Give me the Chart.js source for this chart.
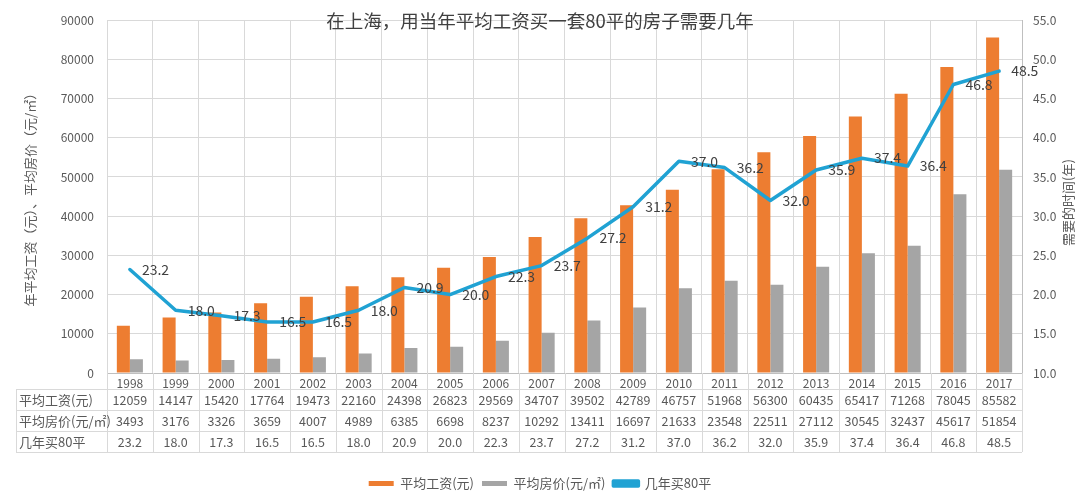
<!DOCTYPE html>
<html><head><meta charset="utf-8">
<script src="https://cdn.jsdelivr.net/npm/chart.js@4.4.1/dist/chart.umd.min.js"></script>
<style>html,body{margin:0;padding:0;background:#fff}#wrap{width:1080px;height:500px}</style>
</head><body><div id="wrap"><canvas id="c" width="1080" height="500"></canvas></div>
<script>
const years = ['1998','1999','2000','2001','2002','2003','2004','2005','2006','2007','2008','2009','2010','2011','2012','2013','2014','2015','2016','2017'];
const wages = [12059,14147,15420,17764,19473,22160,24398,26823,29569,34707,39502,42789,46757,51968,56300,60435,65417,71268,78045,85582];
const prices = [3493,3176,3326,3659,4007,4989,6385,6698,8237,10292,13411,16697,21633,23548,22511,27112,30545,32437,45617,51854];
const yearsNeeded = [23.2,18.0,17.3,16.5,16.5,18.0,20.9,20.0,22.3,23.7,27.2,31.2,37.0,36.2,32.0,35.9,37.4,36.4,46.8,48.5];
const seriesNames = ['平均工资(元)','平均房价(元/㎡)','几年买80平'];
const titleText = '在上海，用当年平均工资买一套80平的房子需要几年';
const leftAxisTitle = '年平均工资（元）、平均房价（元/㎡）';
const rightAxisTitle = '需要的时间(年)';

const FONT = '"Noto Sans CJK SC", "Noto Sans", sans-serif';
const TXT = '#595959';
const GRID = '#D9D9D9';
const PAD_BOTTOM = 0;

const overlay = {
  id: 'overlay',
  afterDatasetsDraw(chart) {
    const ctx = chart.ctx;
    const meta = chart.getDatasetMeta(2);
    ctx.save();
    ctx.font = '14px ' + FONT;
    ctx.fillStyle = '#404040';
    ctx.textAlign = 'left';
    ctx.textBaseline = 'middle';
    meta.data.forEach((p, i) => {
      ctx.fillText(yearsNeeded[i].toFixed(1), p.x + 12, p.y);
    });
    ctx.restore();
  },
  afterDraw(chart) {
    const ctx = chart.ctx;
    const xs = chart.scales.x;
    const area = chart.chartArea;
    ctx.save();
    ctx.font = '18.5px ' + FONT;
    ctx.fillStyle = '#404040';
    ctx.textAlign = 'center';
    ctx.textBaseline = 'middle';
    ctx.fillText(titleText, 540, 21);
    ctx.font = '13px ' + FONT;
    ctx.fillStyle = TXT;
    ctx.save();
    ctx.translate(30, (area.top + area.bottom) / 2);
    ctx.rotate(-Math.PI / 2);
    ctx.fillText(leftAxisTitle, 0, 0);
    ctx.restore();
    ctx.save();
    ctx.translate(1068, (area.top + area.bottom) / 2 + 6);
    ctx.rotate(-Math.PI / 2);
    ctx.fillText(rightAxisTitle, 0, 0);
    ctx.restore();
    const n = years.length;
    const step = (area.right - area.left) / n;
    const tTop = area.bottom + 16;
    const rowH = 21;
    const tLeft = 16;
    ctx.strokeStyle = GRID;
    ctx.lineWidth = 1;
    ctx.beginPath();
    for (let r = 0; r <= 3; r++) {
      const y = Math.round(tTop + r * rowH) + 0.5;
      ctx.moveTo(tLeft, y); ctx.lineTo(area.right, y);
    }
    ctx.moveTo(tLeft + 0.5, tTop); ctx.lineTo(tLeft + 0.5, tTop + 3 * rowH);
    for (let i = 0; i <= n; i++) {
      const x = Math.round(area.left + i * step) + 0.5;
      ctx.moveTo(x, area.bottom); ctx.lineTo(x, tTop + 3 * rowH);
    }
    ctx.stroke();
    const rows = [wages.map(v => String(v)), prices.map(v => String(v)), yearsNeeded.map(v => v.toFixed(1))];
    ctx.fillStyle = TXT;
    ctx.textBaseline = 'middle';
    rows.forEach((vals, r) => {
      const cy = tTop + r * rowH + rowH / 2 + 0.5;
      ctx.font = '13px ' + FONT;
      ctx.textAlign = 'left';
      ctx.fillText(seriesNames[r], 19, cy);
      ctx.font = '12.5px ' + FONT;
      ctx.textAlign = 'center';
      vals.forEach((v, i) => ctx.fillText(v, xs.getPixelForValue(i), cy));
    });
    ctx.restore();
  }
};

new Chart(document.getElementById('c'), {
  type: 'bar',
  data: {
    labels: years,
    datasets: [
      { label: seriesNames[0], data: wages, backgroundColor: '#ED7D31', yAxisID: 'y', order: 1,
        categoryPercentage: 0.57, barPercentage: 1.0 },
      { label: seriesNames[1], data: prices, backgroundColor: '#A5A5A5', yAxisID: 'y', order: 1,
        categoryPercentage: 0.57, barPercentage: 1.0 },
      { label: seriesNames[2], data: yearsNeeded, type: 'line', yAxisID: 'y1', order: 0,
        borderColor: '#20A2D3', backgroundColor: '#20A2D3', borderWidth: 3.5,
        pointRadius: 0, tension: 0, borderCapStyle: 'round', borderJoinStyle: 'round' }
    ]
  },
  options: {
    responsive: false,
    animation: false,
    layout: { padding: { top: 11, left: 0, right: 0, bottom: PAD_BOTTOM } },
    plugins: {
      legend: {
        display: true, position: 'bottom',
        labels: { boxWidth: 25, boxHeight: 5, padding: 8, color: TXT, font: { family: FONT, size: 13 },
          sort: (a, b) => a.datasetIndex - b.datasetIndex }
      },
      tooltip: { enabled: false },
      title: { display: false }
    },
    scales: {
      x: {
        type: 'category',
        grid: { display: true, offset: true, color: GRID, drawTicks: false },
        border: { display: true, color: '#BFBFBF' },
        ticks: { color: TXT, font: { family: FONT, size: 12 }, padding: 3, maxRotation: 0, autoSkip: false },
        afterFit(s) { s.height = s.chart.height - PAD_BOTTOM - s.chart.legend.height - 373; }
      },
      y: {
        position: 'left', min: 0, max: 90000,
        ticks: { stepSize: 10000, color: TXT, font: { family: FONT, size: 12 }, padding: 13,
          callback: v => String(v) },
        grid: { color: GRID, drawTicks: false },
        border: { display: false },
        afterFit(s) { s.width = 107; }
      },
      y1: {
        position: 'right', min: 10, max: 55,
        ticks: { stepSize: 5, color: TXT, font: { family: FONT, size: 12 }, padding: 11,
          callback: v => Number(v).toFixed(1) },
        grid: { display: false, drawTicks: false },
        border: { display: true, color: '#BFBFBF' },
        afterFit(s) { s.width = 58; }
      }
    }
  },
  plugins: [overlay]
});
</script>
</body></html>
